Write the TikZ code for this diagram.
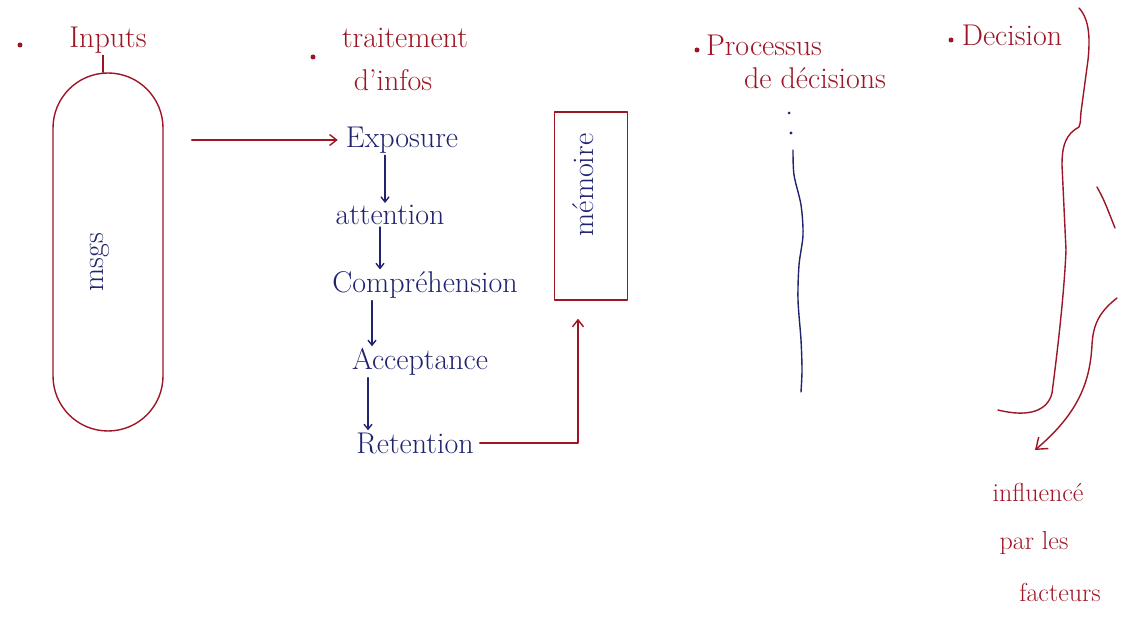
\documentclass[tikz,border=0pt]{standalone}
\usetikzlibrary{arrows.meta}
\definecolor{ink}{RGB}{158,22,38}
\definecolor{pen}{RGB}{32,36,112}
\begin{document}
\begin{tikzpicture}[x=1pt,y=-1pt,
  every node/.style={font=\fontsize{30}{34}\selectfont, inner sep=2pt},
  redtxt/.style={text=ink},
  bluetxt/.style={text=pen},
  sidetxt/.style={text=ink, inner sep=0pt, font=\fontsize{26}{29}\selectfont},
  redline/.style={draw=ink, line width=1.4pt, line cap=round, line join=round},
  blueline/.style={draw=pen, line width=1.4pt, line cap=round, line join=round},
  stepar/.style={blueline, -{Straight Barb[length=5pt,width=8pt]}},
  redar/.style={redline, -{Straight Barb[length=7pt,width=11pt]}},
  dotn/.style={circle, fill=ink, inner sep=0pt, minimum size=5pt}
]
\useasboundingbox (0,0) rectangle (1130,620);
\fill[white] (0,0) rectangle (1130,620);

% headings
\node[dotn] (d1) at (20,45) {};
\node[redtxt] (inputs) at (108,40) {Inputs};
\node[dotn] (d2) at (313,57) {};
\node[redtxt] (trait) at (405,38) {traitement};
\node[redtxt] (dinf) at (393,80) {d’infos};
\node[dotn] (d3) at (697,50) {};
\node[redtxt] (proc) at (764,45) {Processus};
\node[redtxt] (dec2) at (815,78) {de décisions};
\node[dotn] (d4) at (951,40) {};
\node[redtxt] (decision) at (1012,35) {Decision};

% inputs capsule
\node[redline, minimum width=110pt, minimum height=358pt, rounded corners=55pt] (msgs) at (108,252) {};
\node[bluetxt, rotate=90] (msgt) at (100,262) {msgs};
\draw[redline] ([xshift=-5pt]inputs.south) -- ([xshift=-5pt]inputs.south |- msgs.north);

% processing chain
\node[bluetxt] (expo) at (402,140) {Exposure};
\node[bluetxt] (att) at (390,215) {attention};
\node[bluetxt] (comp) at (425,285) {Compréhension};
\node[bluetxt] (acc) at (420,362) {Acceptance};
\node[bluetxt] (ret) at (415,443) {Retention};

\draw[redar] ([xshift=28pt]msgs.east |- expo) -- ([xshift=-6pt]expo.west);

\draw[stepar] ([xshift=-17pt]expo.south) -- ([xshift=-17pt]expo.south |- att.north);
\draw[stepar] ([xshift=-10pt]att.south) -- ([xshift=-10pt]att.south |- comp.north);
\draw[stepar] ([xshift=-53pt]comp.south) -- ([xshift=-53pt]comp.south |- acc.north);
\draw[stepar] ([xshift=-52pt]acc.south) -- ([xshift=-52pt]acc.south |- ret.north);

% memory box
\node[redline, minimum width=73pt, minimum height=188pt] (mem) at (591,206) {};
\node[bluetxt, rotate=90] (memt) at (583,185) {mémoire};
\draw[redar] ([xshift=4pt]ret.east) -- ([xshift=-13pt]ret.east -| mem.south) -- ([xshift=-13pt,yshift=-18pt]mem.south);

% decision process wavy line
\fill[pen] (789,113) circle (1.5pt);
\fill[pen] (791,133) circle (1.6pt);
\draw[blueline] plot[smooth] coordinates {(793,150) (794,175) (801,205) (803,235) (799,265) (798,300) (801,340) (802,370) (801,392)};

% brace and arrow on the right
\draw[redline] (1079,8) .. controls (1090,20) and (1090,40) .. (1088,60)
  -- (1081,112) .. controls (1080,122) and (1081,124) .. (1079,127)
  .. controls (1066,134) and (1062,145) .. (1062,165)
  -- (1066,250) .. controls (1064,300) and (1055,370) .. (1052,393)
  .. controls (1048,410) and (1030,418) .. (998,410);
\draw[redline] (1097,187) .. controls (1104,200) .. (1115,228);
\draw[redline, -{Straight Barb[length=10pt,width=15pt]}] (1117,298)
  .. controls (1099,312) and (1093,325) .. (1092,345)
  .. controls (1090,380) and (1080,412) .. (1035,450);

\node[sidetxt] (infl) at (1038,492) {influencé};
\node[sidetxt] (parles) at (1034,543) {par les};
\node[sidetxt] (fact) at (1060,592) {facteurs};
\end{tikzpicture}
\end{document}
